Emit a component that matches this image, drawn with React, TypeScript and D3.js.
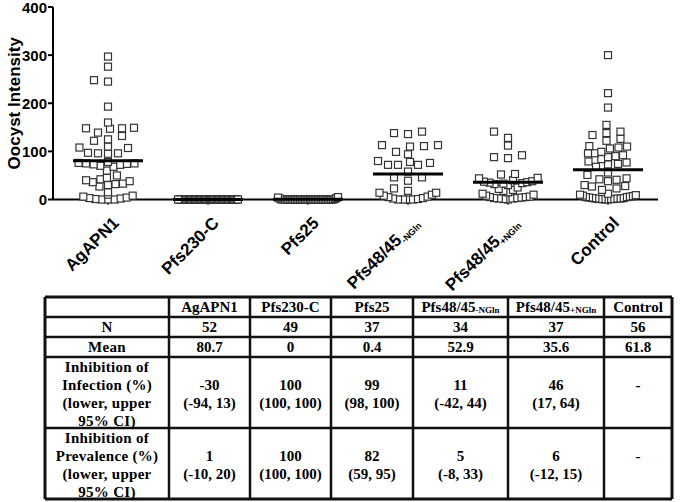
import React, { useMemo } from "react";
import * as d3 from "d3";

const groups = ["AgAPN1", "Pfs230-C", "Pfs25", "Pfs48/45-NGln", "Pfs48/45+NGln", "Control"];
const labelBase = ["AgAPN1", "Pfs230-C", "Pfs25", "Pfs48/45", "Pfs48/45", "Control"];
const labelSub = ["", "", "", "-NGln", "+NGln", ""];

const agapn1 = [297, 276, 248, 245, 193, 160, 149, 148, 147, 148, 139, 132, 125, 122, 110, 107, 108, 97, 96, 96, 95, 78, 76, 75, 74, 73, 72, 70, 75, 68, 60, 50, 45, 42, 40, 38, 36, 33, 32, 30, 27, 15, 10, 8, 6, 4, 3, 2, 1, 0, 0, 0];
const pfs230 = [0, 0, 0, 0, 0, 0, 0, 0, 0, 0, 0, 0, 0, 0, 0, 0, 0, 0, 0, 0, 0, 0, 0, 0, 0, 0, 0, 0, 0, 0, 0, 0, 0, 0, 0, 0, 0, 0, 0, 0, 0, 0, 0, 0, 0, 0, 0, 0, 0];
const pfs25 = [5, 4, 3, 2, 1, 0, 0, 0, 0, 0, 0, 0, 0, 0, 0, 0, 0, 0, 0, 0, 0, 0, 0, 0, 0, 0, 0, 0, 0, 0, 0, 0, 0, 0, 0, 0, 0];
const pfs48neg = [141, 136, 138, 113, 111, 99, 94, 110, 113, 78, 72, 72, 72, 76, 80, 58, 46, 39, 46, 23, 18, 14, 14, 10, 8, 6, 5, 3, 2, 1, 0, 0, 0, 0];
const pfs48pos = [141, 128, 112, 92, 86, 88, 52, 44, 53, 45, 40, 38, 37, 36, 35, 34, 33, 32, 30, 25, 22, 20, 18, 15, 12, 10, 8, 6, 5, 5, 4, 3, 3, 2, 2, 1, 0];
const control = [300, 221, 191, 155, 138, 134, 141, 126, 122, 106, 111, 108, 110, 99, 96, 92, 88, 84, 90, 96, 77, 73, 79, 74, 68, 51, 56, 42, 38, 41, 44, 28, 27, 30, 20, 23, 12, 10, 9, 8, 7, 6, 5, 5, 4, 3, 3, 2, 2, 2, 1, 1, 1, 1, 0, 0];

const means = [80.7, 0, 0.4, 52.9, 35.6, 61.8];
const yTicks = [0, 100, 200, 300, 400];

const tableN = ["52", "49", "37", "34", "37", "56"];
const tableMean = ["80.7", "0", "0.4", "52.9", "35.6", "61.8"];
const infection = ["-30", "100", "99", "11", "46", "-"];
const infectionCI = ["(-94, 13)", "(100, 100)", "(98, 100)", "(-42, 44)", "(17, 64)", ""];
const prevalence = ["1", "100", "82", "5", "6", "-"];
const prevalenceCI = ["(-10, 20)", "(100, 100)", "(59, 95)", "(-8, 33)", "(-12, 15)", ""];
const rowHeads = [["N"], ["Mean"], ["Inhibition of", "Infection (%)", "(lower, upper", "95% CI)"], ["Inhibition of", "Prevalence (%)", "(lower, upper", "95% CI)"]];

const series = [agapn1, pfs230, pfs25, pfs48neg, pfs48pos, control];

const SANS = "'Liberation Sans', Arial, Helvetica, sans-serif";
const SERIF = "'Liberation Serif', 'Times New Roman', serif";

function swarm(vals: number[], y: (v: number) => number, s: number, hw: number, maxStep: number) {
  const pts = vals.map((v) => ({ v, py: y(v) })).sort((a, b) => a.v - b.v);
  const placed: { py: number; x: number }[] = [];
  for (const p of pts) {
    const cnt = pts.filter((q) => Math.abs(q.py - p.py) < s).length;
    const sx = Math.min(maxStep, cnt > 1 ? (2 * hw) / (cnt - 1) : maxStep);
    const near = placed.filter((q) => Math.abs(q.py - p.py) < s);
    const cands = [0];
    near.forEach((q) => cands.push(q.x - sx, q.x + sx));
    const inRange = cands.filter((x) => Math.abs(x) <= hw + 1e-6);
    const valid = inRange.filter((x) => near.every((q) => Math.abs(q.x - x) >= sx - 1e-6));
    let best = 0;
    if (valid.length) {
      best = valid.reduce((a, b) => (Math.abs(b) < Math.abs(a) - 1e-9 ? b : a), valid[0]);
    } else {
      let bc = Infinity;
      for (const x of inRange) {
        const c = near.filter((q) => Math.abs(q.x - x) < sx - 1e-6).length;
        if (c < bc || (c === bc && Math.abs(x) < Math.abs(best))) {
          bc = c;
          best = x;
        }
      }
    }
    placed.push({ py: p.py, x: best });
  }
  return placed;
}

export default function App() {
  const y = d3.scaleLinear().domain([0, 400]).range([199.5, 7]);
  const x = d3.scaleBand<string>().domain(groups).range([58, 658]);
  const axisX = 53;
  const ms = 7;

  const swarms = useMemo(() => series.map((vals) => swarm(vals, y, ms, 30, 14)), []);

  const colX = [45, 169, 250, 331, 413, 508, 604, 672];
  const rowY = [297, 317, 337, 357, 428, 499];

  return (
    <svg width={685} height={502} style={{ position: "absolute", left: 0, top: 0, background: "#fff" }}>
      <text
        transform={`translate(14,${(y(0) + y(400)) / 2}) rotate(-90)`}
        textAnchor="middle"
        dominantBaseline="central"
        fontFamily={SANS}
        fontWeight="bold"
        fontSize={17}
      >
        Oocyst Intensity
      </text>
      <line x1={axisX} x2={axisX} y1={y(400)} y2={y(0)} stroke="#000" strokeWidth={2} />
      {yTicks.map((t) => (
        <g key={t}>
          <line x1={axisX - 5} x2={axisX} y1={y(t)} y2={y(t)} stroke="#000" strokeWidth={2} />
          <text x={axisX - 6} y={y(t)} textAnchor="end" dominantBaseline="central" fontFamily={SANS} fontWeight="bold" fontSize={15}>
            {t}
          </text>
        </g>
      ))}
      <line x1={axisX} x2={658} y1={y(0)} y2={y(0)} stroke="#000" strokeWidth={2} />
      {groups.map((g) => (
        <line key={g} x1={x(g)! + x.bandwidth() / 2} x2={x(g)! + x.bandwidth() / 2} y1={y(0)} y2={y(0) + 5} stroke="#000" strokeWidth={2} />
      ))}
      {groups.map((g, gi) => {
        const cx = x(g)! + x.bandwidth() / 2;
        return (
          <g key={g}>
            {swarms[gi].map((p, i) => (
              <rect key={i} x={cx + p.x - ms / 2} y={p.py - ms / 2} width={ms} height={ms} fill="#fff" stroke="#333" strokeWidth={1.2} />
            ))}
            <line x1={cx - 35} x2={cx + 35} y1={y(means[gi])} y2={y(means[gi])} stroke="#000" strokeWidth={3} />
          </g>
        );
      })}
      {groups.map((g, gi) => {
        const cx = x(g)! + x.bandwidth() / 2;
        return (
          <text
            key={g}
            transform={`translate(${cx + 12},${224}) rotate(-45)`}
            textAnchor="end"
            fontFamily={SANS}
            fontWeight="bold"
            fontSize={17}
          >
            {labelBase[gi]}
            {labelSub[gi] && (
              <tspan fontSize={9} dy={3}>
                {labelSub[gi]}
              </tspan>
            )}
          </text>
        );
      })}
      <g fontFamily={SERIF} fontWeight="bold" fontSize={15}>
        {colX.map((cxv, i) => (
          <line key={"c" + i} x1={cxv} x2={cxv} y1={rowY[0]} y2={rowY[rowY.length - 1]} stroke="#111" strokeWidth={i === 0 || i === colX.length - 1 ? 3 : 2.5} />
        ))}
        {rowY.map((ryv, i) => (
          <line key={"r" + i} x1={colX[0]} x2={colX[colX.length - 1]} y1={ryv} y2={ryv} stroke="#111" strokeWidth={i === 0 || i === rowY.length - 1 ? 3 : 2.5} />
        ))}
        {groups.map((g, gi) => {
          const cx = (colX[gi + 1] + colX[gi + 2]) / 2;
          return (
            <text key={"h" + g} x={cx} y={(rowY[0] + rowY[1]) / 2} textAnchor="middle" dominantBaseline="central">
              {labelBase[gi]}
              {labelSub[gi] && (
                <tspan fontSize={9} dy={3}>
                  {labelSub[gi]}
                </tspan>
              )}
            </text>
          );
        })}
        {rowHeads.map((lines, ri) => {
          const cy = (rowY[ri + 1] + rowY[ri + 2]) / 2 + (lines.length > 1 ? 1.5 : 0);
          const cx = (colX[0] + colX[1]) / 2;
          return lines.map((ln, li) => (
            <text key={"rh" + ri + li} x={cx} y={cy + (li - (lines.length - 1) / 2) * 18.2} textAnchor="middle" dominantBaseline="central" letterSpacing={0.3}>
              {ln}
            </text>
          ));
        })}
        {groups.map((g, gi) => {
          const cx = (colX[gi + 1] + colX[gi + 2]) / 2;
          const c1 = (rowY[1] + rowY[2]) / 2;
          const c2 = (rowY[2] + rowY[3]) / 2;
          const c3 = (rowY[3] + rowY[4]) / 2 + 1.5;
          const c4 = (rowY[4] + rowY[5]) / 2 + 1.5;
          const two = (a: string, b: string, c: number, k: string) =>
            b ? (
              <g key={k}>
                <text x={cx} y={c - 9} textAnchor="middle" dominantBaseline="central">{a}</text>
                <text x={cx} y={c + 9} textAnchor="middle" dominantBaseline="central">{b}</text>
              </g>
            ) : (
              <text key={k} x={cx} y={c - 9} textAnchor="middle" dominantBaseline="central">{a}</text>
            );
          return (
            <g key={"d" + g}>
              <text x={cx} y={c1} textAnchor="middle" dominantBaseline="central">{tableN[gi]}</text>
              <text x={cx} y={c2} textAnchor="middle" dominantBaseline="central">{tableMean[gi]}</text>
              {two(infection[gi], infectionCI[gi], c3, "i")}
              {two(prevalence[gi], prevalenceCI[gi], c4, "p")}
            </g>
          );
        })}
      </g>
    </svg>
  );
}
